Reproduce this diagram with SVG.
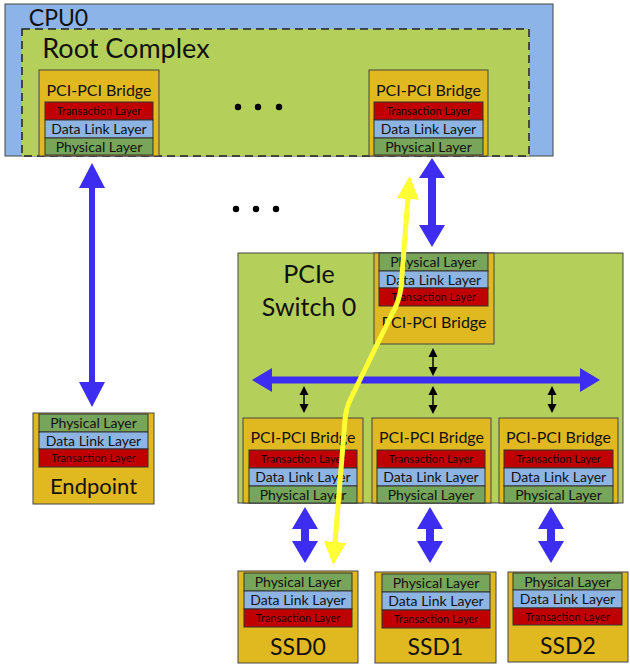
<svg xmlns="http://www.w3.org/2000/svg" width="630" height="666" viewBox="0 0 630 666">
<style>
text{font-family:Lato,"Liberation Sans",sans-serif;fill:#111;text-anchor:middle}
.box{stroke:#444;stroke-width:1}
.gold{fill:#e0b820}
.green{fill:#b5cf5b}
.tl{fill:#c00000;stroke:#333;stroke-width:1}
.dl{fill:#8db4e2;stroke:#333;stroke-width:1}
.pl{fill:#77a55a;stroke:#333;stroke-width:1}
.t11{font-size:11px;fill:#200000}
.t14{font-size:14px}
.t16{font-size:16px}
.big{font-size:22px}
.sw{font-size:25px}
.blue{fill:#3c2df0}
.thin{stroke:#000;stroke-width:1.5;fill:none;marker-start:url(#bh);marker-end:url(#bh)}
.dot{fill:#000}
</style>
<defs>
<marker id="bh" markerUnits="userSpaceOnUse" markerWidth="10" markerHeight="10" viewBox="0 0 10 10" refX="1" refY="5" orient="auto-start-reverse">
<path d="M0,0.5 L9,5 L0,9.5 Z" fill="#000"/>
</marker>
<marker id="yh" markerUnits="userSpaceOnUse" markerWidth="24" markerHeight="24" viewBox="0 0 24 24" refX="1" refY="12" orient="auto-start-reverse">
<path d="M0,1 L23,12 L0,23 Z" fill="#ffff33"/>
</marker>
</defs>

<g id="cpu0">
<rect class="box" x="5" y="4" width="548" height="152" fill="#8db4e9"/>
<text x="58.5" y="26" style="font-size:23px">CPU0</text>
</g>

<g id="root-complex">
<rect x="22" y="29" width="507" height="127" class="green" stroke="#222" stroke-width="1.5" stroke-dasharray="8,5"/>
<text x="126" y="58" style="font-size:27px">Root Complex</text>
</g>

<g id="rc-bridge-0">
<rect class="box gold" x="39" y="70" width="120" height="86"/>
<text class="t16" x="99" y="96">PCI-PCI Bridge</text>
<rect class="tl" x="45" y="102" width="108" height="18"/>
<text class="t11" x="99" y="115">Transaction Layer</text>
<rect class="dl" x="45" y="120" width="108" height="18"/>
<text class="t14" x="99" y="134">Data Link Layer</text>
<rect class="pl" x="45" y="138" width="108" height="17"/>
<text class="t14" x="99" y="152">Physical Layer</text>
</g>

<g id="rc-bridge-1">
<rect class="box gold" x="369" y="70" width="119" height="86"/>
<text class="t16" x="428.5" y="96">PCI-PCI Bridge</text>
<rect class="tl" x="374" y="102" width="109" height="18"/>
<text class="t11" x="428.5" y="115">Transaction Layer</text>
<rect class="dl" x="374" y="120" width="109" height="18"/>
<text class="t14" x="428.5" y="134">Data Link Layer</text>
<rect class="pl" x="374" y="138" width="109" height="17"/>
<text class="t14" x="428.5" y="152">Physical Layer</text>
</g>

<g id="ellipsis-rc">
<circle class="dot" cx="238" cy="107" r="3.2"/>
<circle class="dot" cx="258" cy="107" r="3.2"/>
<circle class="dot" cx="279" cy="107" r="3.2"/>
</g>
<g id="ellipsis-mid">
<circle class="dot" cx="236" cy="209" r="3.2"/>
<circle class="dot" cx="256" cy="209" r="3.2"/>
<circle class="dot" cx="276" cy="209" r="3.2"/>
</g>

<g id="endpoint">
<rect class="box gold" x="33" y="413" width="121" height="91"/>
<rect class="pl" x="39" y="414" width="109" height="18"/>
<text class="t14" x="93.5" y="428">Physical Layer</text>
<rect class="dl" x="39" y="432" width="109" height="17"/>
<text class="t14" x="93.5" y="445.5">Data Link Layer</text>
<rect class="tl" x="39" y="449" width="109" height="18"/>
<text class="t11" x="93.5" y="462">Transaction Layer</text>
<text class="big" x="93.5" y="494">Endpoint</text>
</g>

<g id="pcie-switch-0">
<rect class="box green" x="238" y="253" width="385" height="250"/>
<text class="sw" x="309" y="283">PCIe</text>
<text class="sw" x="309" y="316">Switch 0</text>
</g>

<g id="sw-up-bridge">
<rect class="box gold" x="374" y="253" width="120" height="91"/>
<rect class="pl" x="379" y="253" width="109" height="18"/>
<text class="t14" x="433.5" y="267">Physical Layer</text>
<rect class="dl" x="379" y="271" width="109" height="17"/>
<text class="t14" x="433.5" y="284.5">Data Link Layer</text>
<rect class="tl" x="379" y="288" width="109" height="18"/>
<text class="t11" x="433.5" y="301">Transaction Layer</text>
<text class="t16" x="434" y="328">PCI-PCI Bridge</text>
</g>

<g id="sw-down-bridge-0">
<rect class="box gold" x="243" y="418" width="120" height="85"/>
<text class="t16" x="303" y="443">PCI-PCI Bridge</text>
<rect class="tl" x="249" y="450" width="108" height="18"/>
<text class="t11" x="303" y="463">Transaction Layer</text>
<rect class="dl" x="249" y="468" width="108" height="18"/>
<text class="t14" x="303" y="482">Data Link Layer</text>
<rect class="pl" x="249" y="486" width="108" height="17"/>
<text class="t14" x="303" y="499.5">Physical Layer</text>
</g>

<g id="sw-down-bridge-1">
<rect class="box gold" x="372" y="418" width="119" height="85"/>
<text class="t16" x="431.5" y="443">PCI-PCI Bridge</text>
<rect class="tl" x="377" y="450" width="108" height="18"/>
<text class="t11" x="431" y="463">Transaction Layer</text>
<rect class="dl" x="377" y="468" width="108" height="18"/>
<text class="t14" x="431" y="482">Data Link Layer</text>
<rect class="pl" x="377" y="486" width="108" height="17"/>
<text class="t14" x="431" y="499.5">Physical Layer</text>
</g>

<g id="sw-down-bridge-2">
<rect class="box gold" x="499" y="418" width="119" height="85"/>
<text class="t16" x="558.5" y="443">PCI-PCI Bridge</text>
<rect class="tl" x="504" y="450" width="109" height="18"/>
<text class="t11" x="558.5" y="463">Transaction Layer</text>
<rect class="dl" x="504" y="468" width="109" height="18"/>
<text class="t14" x="558.5" y="482">Data Link Layer</text>
<rect class="pl" x="504" y="486" width="109" height="17"/>
<text class="t14" x="558.5" y="499.5">Physical Layer</text>
</g>

<g id="ssd0">
<rect class="box gold" x="238" y="571" width="120" height="92"/>
<rect class="pl" x="244" y="573" width="108" height="18"/>
<text class="t14" x="298" y="587">Physical Layer</text>
<rect class="dl" x="244" y="591" width="108" height="18"/>
<text class="t14" x="298" y="605">Data Link Layer</text>
<rect class="tl" x="244" y="609" width="108" height="18"/>
<text class="t11" x="298" y="622">Transaction Layer</text>
<text x="298" y="655" style="font-size:23px">SSD0</text>
</g>

<g id="ssd1">
<rect class="box gold" x="375" y="572" width="121" height="91"/>
<rect class="pl" x="382" y="574" width="108" height="18"/>
<text class="t14" x="436" y="588">Physical Layer</text>
<rect class="dl" x="382" y="592" width="108" height="18"/>
<text class="t14" x="436" y="606">Data Link Layer</text>
<rect class="tl" x="382" y="610" width="108" height="18"/>
<text class="t11" x="436" y="623">Transaction Layer</text>
<text x="435.5" y="655" style="font-size:23px">SSD1</text>
</g>

<g id="ssd2">
<rect class="box gold" x="508" y="572" width="120" height="90"/>
<rect class="pl" x="513" y="573" width="109" height="17"/>
<text class="t14" x="567.5" y="586.5">Physical Layer</text>
<rect class="dl" x="513" y="590" width="109" height="18"/>
<text class="t14" x="567.5" y="604">Data Link Layer</text>
<rect class="tl" x="513" y="608" width="109" height="17"/>
<text class="t11" x="567.5" y="620.5">Transaction Layer</text>
<text x="568" y="654" style="font-size:23px">SSD2</text>
</g>

<g id="connectors">
<path class="blue" d="M92,163 L105,188 L95,188 L95,382 L105,382 L92,407 L79,382 L89,382 L89,188 L79,188 Z"/>
<path class="blue" d="M432,158 L445,178 L436,178 L436,225 L445,225 L432,247 L419,225 L428,225 L428,178 L419,178 Z"/>
<path class="blue" d="M252,380 L272,368 L272,376.5 L580,376.5 L580,368 L600,380 L580,392 L580,383.5 L272,383.5 L272,392 Z"/>
<path class="blue" d="M305,507 L318,529 L309,529 L309,541 L318,541 L305,563 L292,541 L301,541 L301,529 L292,529 Z"/>
<path class="blue" d="M430,507 L443,529 L434,529 L434,541 L443,541 L430,563 L417,541 L426,541 L426,529 L417,529 Z"/>
<path class="blue" d="M551,507 L564,529 L555,529 L555,541 L564,541 L551,563 L538,541 L547,541 L547,529 L538,529 Z"/>
<line class="thin" x1="433" y1="356" x2="433" y2="368"/>
<line class="thin" x1="433" y1="394" x2="433" y2="406"/>
<line class="thin" x1="304" y1="394" x2="304" y2="405"/>
<line class="thin" x1="552" y1="394" x2="552" y2="405"/>
<path d="M408,198 L401,288 Q399,302 392,314 L351,398 Q346,408 345,420 L335,543" fill="none" stroke="#ffff33" stroke-width="5" marker-start="url(#yh)" marker-end="url(#yh)"/>
</g>
</svg>
